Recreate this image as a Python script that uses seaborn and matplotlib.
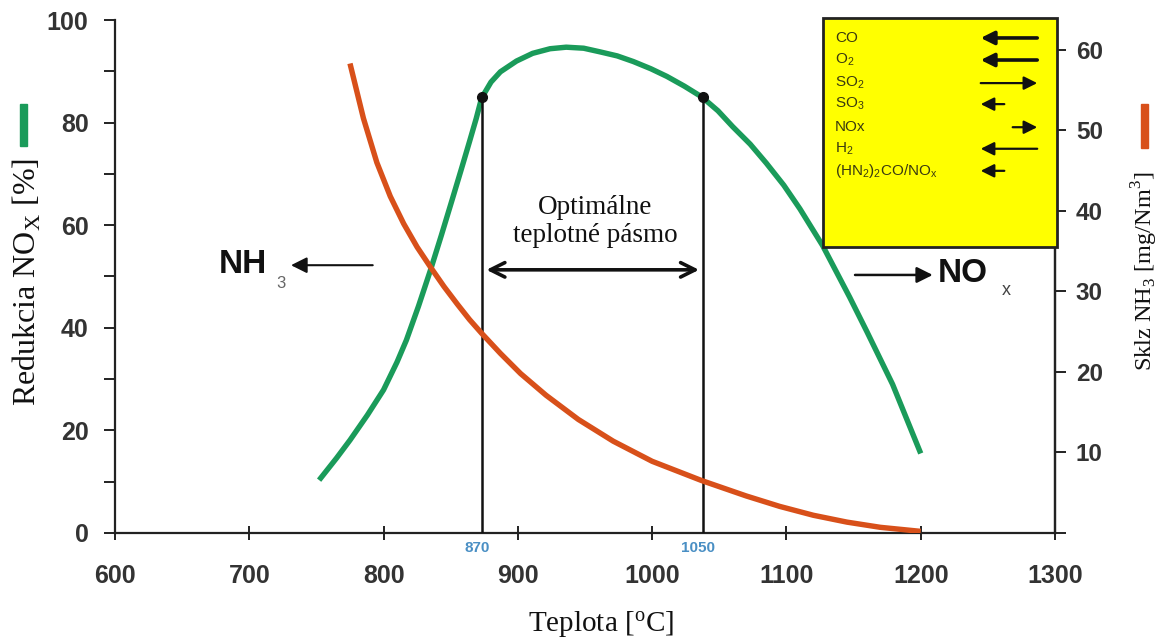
import matplotlib
matplotlib.use("Agg")
import matplotlib.pyplot as plt
import seaborn as sns
import pandas as pd
from matplotlib.patches import Rectangle

# ---------------- data ----------------
nox_temp = [752, 765, 775, 788, 800, 810, 817, 826, 835, 843, 851, 858, 864, 869,
            873, 880, 887, 899, 911, 924, 936, 949, 961, 974, 986, 999, 1011,
            1024, 1037, 1049, 1060, 1073, 1085, 1098, 1110, 1127, 1147, 1160,
            1179, 1200]
nox_red = [10.3, 14.6, 18.1, 23.0, 27.9, 33.3, 37.6, 44.2, 51.3, 58.0, 64.9, 71.0,
           76.3, 80.8, 84.8, 87.9, 89.9, 92.0, 93.5, 94.4, 94.7, 94.5, 93.8,
           93.0, 91.9, 90.5, 89.0, 87.1, 85.0, 82.3, 79.2, 75.8, 72.1, 67.8,
           63.2, 56.0, 46.0, 39.2, 29.0, 15.5]

nh3_temp = [775, 785, 795, 805, 815, 825, 835, 845, 855, 864, 873, 887, 902, 921,
            945, 971, 1000, 1037, 1070, 1095, 1120, 1145, 1170, 1200]
nh3_slip = [58.3, 51.5, 46.0, 41.8, 38.4, 35.5, 33.0, 30.6, 28.4, 26.5, 24.8,
            22.3, 19.8, 17.1, 14.1, 11.4, 8.9, 6.5, 4.6, 3.3, 2.2, 1.35, 0.7, 0.2]

window_temp = [873.5, 1038]          # drawn positions of the optimal window
window_labels = ["870", "1050"]
window_red = [85.0, 85.0]

x_ticks = [600, 700, 800, 900, 1000, 1100, 1200, 1300]
y_left_ticks = [0, 20, 40, 60, 80, 100]
y_right_ticks = [0, 10, 20, 30, 40, 50, 60]

box_species = ["CO", "O$_\\mathregular{2}$", "SO$_\\mathregular{2}$", "SO$_\\mathregular{3}$",
               "NOx", "H$_\\mathregular{2}$",
               "(HN$_\\mathregular{2}$)$_\\mathregular{2}$CO/NO$_\\mathregular{x}$"]
box_arrow_dir = ["left", "left", "right", "left", "right", "left", "left"]
box_arrow_len = ["long", "long", "long", "short", "short", "long", "short"]

GREEN = "#1a9b5a"
ORANGE = "#d8501a"
TICKC = "#333333"

sns.set_theme(style="white")
plt.rcParams["font.family"] = ["Liberation Sans", "DejaVu Sans"]

fig = plt.figure(figsize=(11.59, 6.37), dpi=100)
ax = fig.add_axes([0.0992, 0.1633, 0.8111, 0.8053])
ax2 = ax.twinx()

df_nox = pd.DataFrame({"T": nox_temp, "R": nox_red})
df_nh3 = pd.DataFrame({"T": nh3_temp, "S": nh3_slip})

sns.lineplot(data=df_nox, x="T", y="R", ax=ax, color=GREEN, lw=3.9,
             solid_capstyle="butt", solid_joinstyle="round", zorder=3)
sns.lineplot(data=df_nh3, x="T", y="S", ax=ax2, color=ORANGE, lw=3.9,
             solid_capstyle="butt", solid_joinstyle="round", zorder=3)

ax.set_xlim(600, 1300)
ax.set_ylim(0, 100)
ax2.set_ylim(0, 63.7)

# spines
for a in (ax, ax2):
    a.spines["top"].set_visible(False)
    for s in ("left", "right", "bottom"):
        a.spines[s].set_color("#222222")
        a.spines[s].set_linewidth(1.6)
ax2.spines["left"].set_visible(False)
ax2.spines["bottom"].set_visible(False)

ax.set_xticks(x_ticks)
ax.set_xticklabels([str(t) for t in x_ticks])
ax.set_yticks(y_left_ticks)
ax.set_yticklabels([str(t) for t in y_left_ticks])
ax.set_yticks([10, 30, 50, 70, 90], minor=True)
ax2.set_yticks(y_right_ticks)
ax2.set_yticklabels(["" if t == 0 else str(t) for t in y_right_ticks])

ax.tick_params(axis="x", direction="inout", length=10, width=1.4, color="#222222",
               pad=17, labelsize=18, labelcolor=TICKC, bottom=True)
ax.tick_params(axis="y", which="major", direction="out", length=8, width=1.4,
               color="#222222", pad=11, labelsize=18, labelcolor=TICKC, left=True)
ax.tick_params(axis="y", which="minor", direction="out", length=8, width=1.4,
               color="#222222", left=True)
ax2.tick_params(axis="y", direction="out", length=8, width=1.4, color="#222222",
                pad=7, labelsize=17.5, labelcolor=TICKC, right=True)
for lab in ax.get_xticklabels() + ax.get_yticklabels() + ax2.get_yticklabels():
    lab.set_fontweight("bold")

ax.set_xlabel("Teplota [$\\mathregular{^o}$C]", family="Liberation Serif", fontsize=21,
              color="#111111")
ax.set_ylabel("Redukcia NO$_\\mathregular{X}$ [%]", family="Liberation Serif", fontsize=23,
              color="#111111")
ax2.set_ylabel("Sklz NH$_\\mathregular{3}$ [mg/Nm$^\\mathregular{3}$]", family="Liberation Serif",
               fontsize=17.5, color="#111111", rotation=90)
ax.xaxis.set_label_coords(0.517, -0.148)
ax.yaxis.set_label_coords(-0.077, 0.49)
ax2.yaxis.set_label_coords(1.079, 0.51)

# coloured markers next to axis titles
fig.add_artist(Rectangle((20 / 1159, 1 - 146 / 637), 7 / 1159, 42 / 637,
                         transform=fig.transFigure, color=GREEN))
fig.add_artist(Rectangle((1141 / 1159, 1 - 148 / 637), 7 / 1159, 44 / 637,
                         transform=fig.transFigure, color=ORANGE))

# optimal window lines and dots
for t, r, lab in zip(window_temp, window_red, window_labels):
    ax.plot([t, t], [0, r], color="#111111", lw=1.8, zorder=4)
    ax.plot([t], [r], "o", color="#111111", ms=7, zorder=5)
    ax.text(t - 4, -1.6, lab, ha="center", va="top", fontsize=11, fontweight="bold",
            color="#4a8fc4")

ax.annotate("", xy=(window_temp[0] + 1, 51.3), xytext=(window_temp[1] - 1, 51.3),
            arrowprops=dict(arrowstyle="<->", color="#111111", lw=2.6,
                            mutation_scale=26), zorder=5)
ax.text((window_temp[0] + window_temp[1]) / 2 + 2, 60.8, "Optimálne\nteplotné pásmo",
        ha="center", va="center", family="Liberation Serif", fontsize=19.5,
        color="#111111", linespacing=1.15)

# NH3 and NOx direction labels
ax.annotate("", xy=(729, 52.2), xytext=(794, 52.2),
            arrowprops=dict(arrowstyle="-|>", color="#111111", lw=1.5,
                            mutation_scale=24))
ax.text(677, 52.4, "NH", ha="left", va="center", fontsize=24, fontweight="bold",
        color="#111111")
ax.text(720, 48.6, "3", ha="left", va="center", fontsize=12, color="#666666")

ax.annotate("", xy=(1211, 50.3), xytext=(1149, 50.3),
            arrowprops=dict(arrowstyle="-|>", color="#111111", lw=1.8,
                            mutation_scale=24), annotation_clip=False)
ax.text(1213, 50.5, "NO", ha="left", va="center", fontsize=24, fontweight="bold",
        color="#111111")
ax.text(1260, 47.2, "x", ha="left", va="center", fontsize=13, color="#444444")

# yellow box (in axes fraction coordinates)
box = Rectangle((0.753, 0.5575), 0.249, 0.4465, transform=ax2.transAxes,
                facecolor="#ffff00", edgecolor="#222222", lw=2, zorder=10,
                clip_on=False)
ax2.add_patch(box)
row_y = [0.965, 0.922, 0.877, 0.836, 0.791, 0.749, 0.706]
for sp, yy, d, ln in zip(box_species, row_y, box_arrow_dir, box_arrow_len):
    ax2.text(0.766, yy, sp, transform=ax2.transAxes, ha="left", va="center",
             fontsize=11, color="#3a3a10", zorder=11)
    x_l = 0.918 if (ln == "long" or d == "left") else 0.952
    x_r = 0.984 if (ln == "long" or d == "right") else 0.949
    heavy = sp in ("CO", "O$_\\mathregular{2}$")
    lw = 2.6 if heavy else 1.6
    if d == "left":
        start, end = (x_r, yy), (x_l, yy)
    else:
        start, end = (x_l, yy), (x_r, yy)
    ax2.annotate("", xy=end, xytext=start, xycoords=ax2.transAxes,
                 textcoords=ax2.transAxes,
                 arrowprops=dict(arrowstyle="-|>", color="#111111", lw=lw,
                                 mutation_scale=20), zorder=11)

fig.savefig("out.png", dpi=100, facecolor="white")
